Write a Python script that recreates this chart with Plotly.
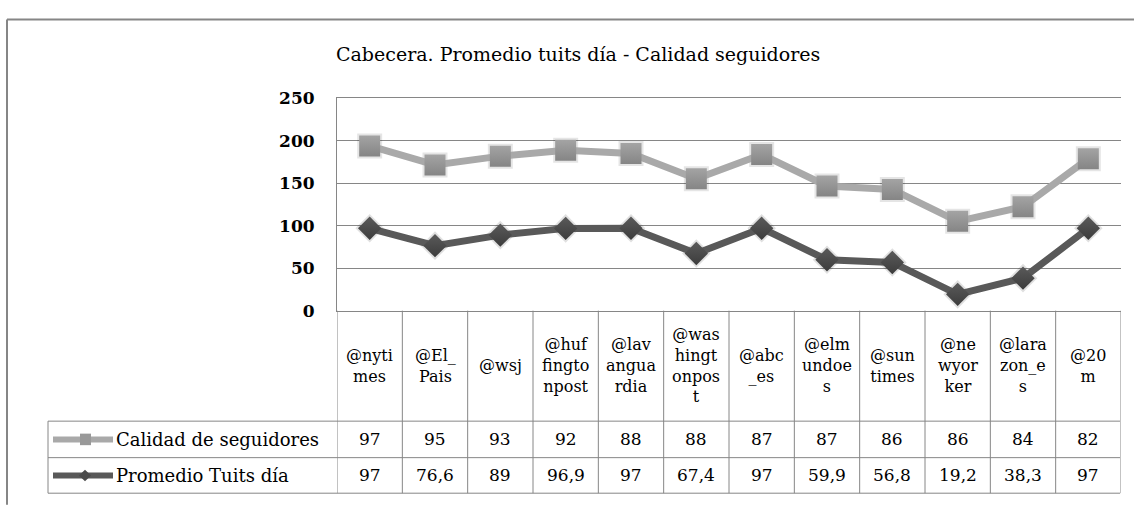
import plotly.graph_objects as go

# ---------------- data ----------------
categories = ["@nytimes", "@El_Pais", "@wsj", "@huffingtonpost", "@lavanguardia",
              "@washingtonpost", "@abc_es", "@elmundoes", "@suntimes", "@newyorker",
              "@larazon_es", "@20m"]
category_labels = ["@nyti<br>mes", "@El_<br>Pais", "@wsj", "@huf<br>fingto<br>npost",
                   "@lav<br>angua<br>rdia", "@was<br>hingt<br>onpos<br>t", "@abc<br>_es",
                   "@elm<br>undoe<br>s", "@sun<br>times", "@ne<br>wyor<br>ker",
                   "@lara<br>zon_e<br>s", "@20<br>m"]
calidad_seguidores = [97, 95, 93, 92, 88, 88, 87, 87, 86, 86, 84, 82]
promedio_tuits = [97, 76.6, 89, 96.9, 97, 67.4, 97, 59.9, 56.8, 19.2, 38.3, 97]
series_names = ["Calidad de seguidores", "Promedio Tuits día"]
title_text = "Cabecera. Promedio tuits día - Calidad seguidores"
y_ticks = [0, 50, 100, 150, 200, 250]

W, H = 1134, 508
def px(x):
    return x / W
def py(y):
    return 1 - y / H

FONT = "DejaVu Serif"
GRID = "#868686"
C_LIGHT = "#a9a9a9"
C_DARK = "#595959"

x_idx = list(range(len(categories)))

fig = go.Figure()
# soft marker halos (stacked the same way as the series)
fig.add_trace(go.Scatter(
    x=x_idx, y=promedio_tuits, stackgroup="shadow", fill="none", mode="markers",
    marker=dict(symbol="diamond", size=22, color="rgba(0,0,0,0.12)"), hoverinfo="skip",
))
fig.add_trace(go.Scatter(
    x=x_idx, y=calidad_seguidores, stackgroup="shadow", fill="none", mode="markers",
    marker=dict(symbol="square", size=25, color="rgba(0,0,0,0.10)"), hoverinfo="skip",
))
# stacked lines (Promedio at bottom, Calidad stacked above)
fig.add_trace(go.Scatter(
    x=x_idx, y=promedio_tuits, name=series_names[1], stackgroup="one", fill="none",
    mode="lines+markers", line=dict(color=C_DARK, width=7),
    marker=dict(symbol="diamond", size=18, color="#5a5a5a",
                gradient=dict(type="vertical", color="#3c3c3c"), line=dict(width=0)),
))
fig.add_trace(go.Scatter(
    x=x_idx, y=calidad_seguidores, name=series_names[0], stackgroup="one", fill="none",
    mode="lines+markers", line=dict(color=C_LIGHT, width=7),
    marker=dict(symbol="square", size=21, color="#a4a4a4",
                gradient=dict(type="vertical", color="#858585"), line=dict(width=0)),
))

shapes = []
annotations = []

# outer frame
shapes.append(dict(type="line", xref="paper", yref="paper", x0=px(7), x1=px(1140),
                   y0=py(10), y1=py(10), line=dict(color=GRID, width=2)))
shapes.append(dict(type="line", xref="paper", yref="paper", x0=px(7), x1=px(7),
                   y0=py(10), y1=py(515), line=dict(color=GRID, width=2)))

hdr_top, hdr_bot, row1_bot, row2_bot = 313, 428, 466, 503
tbl_left = 48
n = len(categories)

for k in range(n + 1):
    shapes.append(dict(type="line", xref="x", yref="paper", x0=k - 0.5, x1=k - 0.5,
                       y0=py(hdr_top), y1=py(row2_bot), line=dict(color=GRID, width=1)))
shapes.append(dict(type="line", xref="paper", yref="paper", x0=px(tbl_left), x1=px(tbl_left),
                   y0=py(hdr_bot), y1=py(row2_bot), line=dict(color=GRID, width=1)))
for yy in (hdr_bot, row1_bot, row2_bot):
    shapes.append(dict(type="line", xref="paper", yref="paper",
                       x0=px(tbl_left), x1=px(1120), y0=py(yy), y1=py(yy),
                       line=dict(color=GRID, width=1)))

hdr_mid = (hdr_top + hdr_bot) / 2
for i, lab in enumerate(category_labels):
    annotations.append(dict(x=i, y=py(hdr_mid), xref="x", yref="paper", text=lab,
                            showarrow=False, xanchor="center", yanchor="middle", align="center",
                            font=dict(family=FONT, size=16, color="#000")))

def fmt(v):
    return f"{v:g}".replace(".", ",")

row_mid = [(hdr_bot + row1_bot) / 2, (row1_bot + row2_bot) / 2]
row_vals = [calidad_seguidores, promedio_tuits]
for r in range(2):
    for i, v in enumerate(row_vals[r]):
        annotations.append(dict(x=i, y=py(row_mid[r]), xref="x", yref="paper", text=fmt(v),
                                showarrow=False, xanchor="center", yanchor="middle",
                                font=dict(family=FONT, size=17, color="#000")))
    annotations.append(dict(x=px(114), y=py(row_mid[r]), xref="paper", yref="paper",
                            text=series_names[r], showarrow=False, xanchor="left",
                            yanchor="middle", font=dict(family=FONT, size=18, color="#000")))

# legend keys inside the table
for r, col in enumerate([C_LIGHT, C_DARK]):
    yc = row_mid[r]
    shapes.append(dict(type="line", xref="paper", yref="paper", x0=px(53), x1=px(113),
                       y0=py(yc), y1=py(yc), line=dict(color=col, width=6)))
shapes.append(dict(type="rect", xref="paper", yref="paper", x0=px(80), x1=px(91),
                   y0=py(row_mid[0] + 6), y1=py(row_mid[0] - 6),
                   fillcolor="#999999", line=dict(width=0)))
cx, cy = 85, row_mid[1]
shapes.append(dict(type="path", xref="paper", yref="paper",
                   path=f"M {px(cx-6)} {py(cy)} L {px(cx)} {py(cy-6)} L {px(cx+6)} {py(cy)} L {px(cx)} {py(cy+6)} Z",
                   fillcolor="#4a4a4a", line=dict(width=0)))

annotations.append(dict(x=px(578), y=py(46), xref="paper", yref="paper", text=title_text,
                        showarrow=False, xanchor="center", yanchor="middle",
                        font=dict(family=FONT, size=19, color="#000")))

fig.update_layout(
    width=W, height=H,
    margin=dict(l=0, r=0, t=0, b=0),
    paper_bgcolor="white", plot_bgcolor="white",
    showlegend=False,
    font=dict(family=FONT),
    shapes=shapes, annotations=annotations,
    xaxis=dict(domain=[px(337), px(1121)], range=[-0.5, n - 0.5],
               showgrid=False, zeroline=False, showticklabels=False, ticks="",
               showline=True, mirror=True, linecolor=GRID, linewidth=1),
    yaxis=dict(domain=[py(313), py(92)], range=[0, 250], tickvals=y_ticks,
               showgrid=True, gridcolor=GRID, gridwidth=1, zeroline=False,
               showline=True, linecolor=GRID, linewidth=1, ticks="",
               ticklabelstandoff=18,
               tickfont=dict(family=FONT, size=17, color="#000", weight="bold")),
)

fig.write_html(
    "out.html",
    config={"displayModeBar": False},
    post_script=("document.body.style.margin='0';"
                 "var d=document.getElementById('{plot_id}');"
                 "d.style.position='fixed';d.style.top='0';d.style.left='0';"),
)
